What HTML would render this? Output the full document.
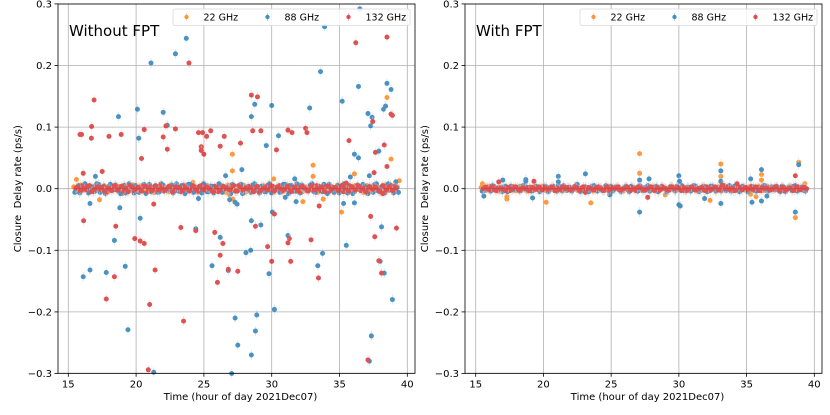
<!DOCTYPE html>
<html><head><meta charset="utf-8">
<style>
html,body{margin:0;padding:0;background:#fff;}
svg{display:block;font-family:"DejaVu Sans","Liberation Sans",sans-serif;}
</style></head>
<body>
<svg id="chart" width="830" height="415" viewBox="0 0 830 415" xmlns="http://www.w3.org/2000/svg"></svg>
<script>
// ---- data ----
const xTicks = [15, 20, 25, 30, 35, 40];
const yTicks = [-0.3, -0.2, -0.1, 0.0, 0.1, 0.2, 0.3];
const yTickLabels = ["\u22120.3", "\u22120.2", "\u22120.1", "0.0", "0.1", "0.2", "0.3"];
const seriesNames = ["22 GHz", "88 GHz", "132 GHz"];
const panelTitles = ["Without FPT", "With FPT"];

// dense band near zero (time in hours, value in 1e-3 ps/s)
const bandTimes = [15.40,15.65,15.90,16.15,16.40,16.65,16.90,17.15,17.40,17.65,17.90,18.15,18.40,18.65,18.90,19.15,19.40,19.65,19.90,20.15,20.40,20.65,20.90,21.15,21.40,21.65,21.90,22.15,22.40,22.65,22.90,23.15,23.40,23.65,23.90,24.15,24.40,24.65,24.90,25.15,25.40,25.65,25.90,26.15,26.40,26.65,26.90,27.15,27.40,27.65,27.90,28.15,28.40,28.65,28.90,29.15,29.40,29.65,29.90,30.15,30.40,30.65,30.90,31.15,31.40,31.65,31.90,32.15,32.40,32.65,32.90,33.15,33.40,33.65,33.90,34.15,34.40,34.65,34.90,35.15,35.40,35.65,35.90,36.15,36.40,36.65,36.90,37.15,37.40,37.65,37.90,38.15,38.40,38.65,38.90,39.15];
const bandTimes2 = [15.52,15.77,16.02,16.27,16.52,16.77,17.02,17.27,17.52,17.77,18.02,18.27,18.52,18.77,19.02,19.27,19.52,19.77,20.02,20.27,20.52,20.77,21.02,21.27,21.52,21.77,22.02,22.27,22.52,22.77,23.02,23.27,23.52,23.77,24.02,24.27,24.52,24.77,25.02,25.27,25.52,25.77,26.02,26.27,26.52,26.77,27.02,27.27,27.52,27.77,28.02,28.27,28.52,28.77,29.02,29.27,29.52,29.77,30.02,30.27,30.52,30.77,31.02,31.27,31.52,31.77,32.02,32.27,32.52,32.77,33.02,33.27,33.52,33.77,34.02,34.27,34.52,34.77,35.02,35.27,35.52,35.77,36.02,36.27,36.52,36.77,37.02,37.27,37.52,37.77,38.02,38.27,38.52,38.77,39.02,39.27];
const bandLeft22 = [3,-4,6,-2,1,-5,4,0,-3,5,-6,2,-1,4,-3,6,-5,1,3,-2,5,-4,0,2,-6,4,-1,3,-5,6,-2,1,-4,5,-3,2,0,-5,6,-1,3,-4,1,5,-2,-6,4,0,-3,2,6,-5,1,-2,4,-3,5,-1,2,-6,3,0,-4,6,-2,1,-5,4,-3,2,5,-1,-6,3,0,-2,4,-5,6,1,-3,2,-4,5,-1,3,-6,0,4,-2,1,-5,6,-3,2,-1];
const bandLeft88 = [-6,5,-2,8,-7,3,-4,7,1,-8,4,-3,6,-5,2,-7,8,-1,5,-6,3,-8,7,-2,4,-5,6,-3,1,-7,8,-4,5,-1,7,-6,2,-3,8,-5,4,-7,1,6,-2,3,-8,5,-4,7,-1,2,-6,8,-3,4,-5,6,-7,1,3,-2,7,-8,5,-4,2,6,-1,-3,8,-6,4,-5,3,7,-2,1,-7,6,-4,5,-8,2,-1,7,-3,4,-6,8,-5,3,-2,6,-7,1];
const bandLeft132 = [1,-3,4,-2,5,-4,2,-1,3,-5,0,4,-2,3,-4,1,5,-3,2,-1,4,-5,3,0,-2,5,-4,1,3,-3,2,-5,4,-1,0,3,-4,5,-2,1,-3,4,-5,2,0,-1,3,-4,5,-2,1,4,-3,2,-5,0,3,-1,4,-2,5,-4,1,-3,2,3,-5,4,-1,0,-2,5,-3,1,4,-4,2,-1,3,-5,0,4,-2,5,-3,1,-4,2,3,-1,-5,4,0,-2,3];
const bandRight22 = [2,-3,4,-1,0,-4,3,1,-2,4,-3,2,-1,3,-4,1,2,-2,4,-3,0,3,-1,2,-4,1,3,-2,4,-1,-3,2,0,-4,3,1,-2,4,-3,1,2,-1,-4,3,0,2,-3,4,-1,1,-2,3,-4,2,0,-1,4,-3,1,2,-2,3,-4,0,1,-3,4,-1,2,-2,3,-4,1,0,-3,4,2,-1,-2,3,-4,1,4,-3,0,2,-1,3,-4,1,-2,4,-3,2];
const bandRight88 = [-4,3,-1,5,-3,2,-5,4,0,-2,3,-4,5,-1,2,-3,4,-5,1,3,-2,4,-4,0,5,-3,2,-1,4,-5,3,-2,1,5,-4,2,-3,0,4,-1,3,-5,2,-2,4,1,-4,3,-3,5,-1,2,-5,4,0,-2,3,-4,1,5,-3,2,-1,4,-5,3,-2,0,4,-4,1,3,-3,5,-1,2,-5,4,-2,0,3,-4,1,5,-3,2,-1,4,-5,3,-2,1,4,-4,2,-3];
const bandRight132 = [0,2,-2,3,-3,1,-1,2,-3,3,0,-2,1,2,-3,3,-1,0,2,-2,3,-3,1,-1,0,2,-2,3,-1,1,-3,2,0,-2,3,-1,1,-3,2,0,3,-2,1,-1,2,-3,3,0,-2,1,2,-1,-3,3,0,-2,2,1,-1,3,-3,0,2,-2,1,-1,3,-3,2,0,-2,1,3,-1,-3,2,0,1,-2,3,-1,2,-3,0,1,-2,3,-1,2,-3,0,1,-2,3,-1,2];

// outliers: left panel
const outLeft22T = [27.1,27.1,27.15,38.5,38.8,38.7,33.05,33.05,32.3,35.15,33.8,36.1,17.3,15.6,30.15,39.4,26.9,19.0,24.2];
const outLeft22V = [0.056,0.029,-0.017,0.148,0.048,0.276,0.038,0.020,-0.021,-0.038,-0.017,0.024,-0.018,0.015,0.016,0.013,-0.010,-0.008,0.010];
const outLeft88T = [16.1,16.6,16.6,17.0,17.8,18.4,18.7,18.8,19.2,19.4,20.1,20.2,20.3,21.1,21.3,22.0,22.3,22.9,23.7,24.4,24.6,25.6,26.2,26.8,26.9,27.05,27.3,27.5,27.3,27.45,27.8,28.5,28.75,28.45,28.5,28.1,28.5,28.8,28.9,29.2,29.6,29.8,30.0,30.05,30.2,30.5,31.2,32.8,33.6,33.9,33.4,33.75,35.2,35.5,36.1,36.4,36.4,36.5,37.1,37.3,37.4,37.35,37.2,37.9,38.1,38.0,38.3,38.25,38.4,38.5,38.8,38.9,39.15,36.1,35.3,37.2,35.8,26.6,31.7,31.8,31.0];
const outLeft88V = [-0.143,-0.132,-0.024,0.020,-0.136,-0.084,0.117,-0.031,-0.126,-0.229,0.129,0.082,-0.048,0.204,-0.298,0.124,0.103,0.219,0.244,-0.065,-0.016,-0.125,-0.079,-0.133,-0.018,-0.300,-0.210,-0.254,-0.022,-0.025,0.031,0.117,0.137,-0.100,-0.052,-0.104,-0.270,-0.231,-0.205,-0.059,0.070,-0.138,0.135,-0.038,-0.196,0.086,-0.076,0.131,0.190,0.263,-0.125,-0.105,0.142,-0.092,0.056,0.050,0.166,0.292,0.122,0.102,0.116,-0.239,-0.280,0.061,-0.062,-0.118,-0.137,0.129,0.134,0.171,0.161,-0.180,0.011,-0.023,-0.024,0.021,0.019,0.021,0.016,-0.021,-0.014];
const outLeft132T = [15.86,15.98,16.9,16.7,16.72,16.1,16.13,17.5,17.8,18.0,18.4,18.5,18.9,19.9,20.3,20.6,20.4,20.6,21.0,20.9,21.3,21.4,22.0,22.2,22.3,22.9,23.3,23.5,23.9,24.4,24.6,24.8,24.8,24.9,25.0,25.2,25.5,25.8,26.0,26.2,26.2,26.4,26.5,26.8,27.5,27.7,28.5,28.6,28.8,28.95,29.2,29.7,30.0,30.2,30.35,31.2,31.5,31.4,31.3,31.2,32.5,32.6,32.9,33.45,33.5,35.7,36.2,37.1,37.3,37.55,37.65,37.6,37.9,38.1,38.3,38.5,38.5,38.8,38.9,37.45,39.2,38.2,35.5];
const outLeft132V = [0.088,0.088,0.144,0.082,0.101,0.025,-0.052,0.028,-0.179,0.085,-0.143,-0.061,0.088,-0.081,-0.085,0.096,0.049,-0.089,-0.188,-0.294,-0.025,-0.132,0.084,0.102,0.064,0.097,-0.063,-0.215,0.204,-0.068,0.091,0.068,0.062,0.091,0.056,0.085,0.094,-0.071,-0.152,0.069,-0.108,-0.089,0.085,-0.131,-0.134,0.074,0.152,0.094,-0.061,0.149,0.094,-0.094,-0.118,-0.041,0.063,0.095,0.091,-0.118,-0.081,-0.088,0.098,0.091,-0.083,-0.145,-0.028,0.078,0.237,-0.278,-0.045,0.026,0.059,-0.078,-0.117,-0.137,0.071,0.246,0.036,0.121,0.119,0.109,-0.064,-0.008,0.009];

// outliers: right panel
const outRight22T = [27.1,27.1,33.1,33.1,36.1,36.1,38.85,38.6,20.2,23.5,17.3,17.3,32.3,35.7,35.3,29.0,39.3,15.5];
const outRight22V = [0.057,0.025,0.040,0.020,0.023,0.014,0.043,-0.047,-0.022,-0.023,-0.017,-0.013,-0.019,-0.013,-0.009,-0.010,0.008,0.008];
const outRight88T = [15.6,17.0,18.7,18.7,19.2,21.1,21.1,23.1,24.9,27.1,27.1,27.8,30.0,30.0,30.1,30.05,31.9,33.1,33.1,33.1,35.3,35.4,36.1,36.1,36.5,38.6,38.85,22.5];
const outRight88V = [-0.012,0.014,0.015,0.012,-0.015,0.020,0.011,0.024,-0.010,-0.038,0.014,0.016,0.021,-0.026,-0.028,0.012,-0.016,0.029,0.012,-0.024,0.016,-0.022,0.031,-0.020,-0.012,-0.038,0.039,0.007];
const outRight132T = [16.7,19.3,27.7,38.6,33.2,23.1,34.3];
const outRight132V = [0.011,0.012,-0.014,0.021,0.006,-0.006,0.008];

const colors = ["#ff7f0e", "#1f77b4", "#d62728"];

// ---- layout ----
const NS = "http://www.w3.org/2000/svg";
const svg = document.getElementById("chart");
const panels = [
  {x0: 58, x1: 415, t15: 68.3, t40: 407.3, ylabX: 21, band: [bandLeft22, bandLeft88, bandLeft132],
   outT: [outLeft22T, outLeft88T, outLeft132T], outV: [outLeft22V, outLeft88V, outLeft132V]},
  {x0: 465, x1: 822, t15: 475.7, t40: 814.3, ylabX: 428, band: [bandRight22, bandRight88, bandRight132],
   outT: [outRight22T, outRight88T, outRight132T], outV: [outRight22V, outRight88V, outRight132V]}
];
const yTop = 4, yBot = 373.3;
function yScale(v) { return 188.7 - v * 616; }

function el(tag, attrs, parent) {
  const e = document.createElementNS(NS, tag);
  for (const k in attrs) e.setAttribute(k, attrs[k]);
  (parent || svg).appendChild(e);
  return e;
}

panels.forEach((p, pi) => {
  const xScale = t => p.t15 + (t - 15) * (p.t40 - p.t15) / 25;
  const g = el("g", {});
  
  

  xTicks.forEach(t => {
    const gl = el("line", {x1: xScale(t), x2: xScale(t), y1: yTop, y2: yBot, stroke: "#b0b0b0", "stroke-width": 0.8}, g);
    
    
  });
  yTicks.forEach(v => {
    const gl = el("line", {x1: p.x0, x2: p.x1, y1: yScale(v), y2: yScale(v), stroke: "#b0b0b0", "stroke-width": 0.8}, g);
    
    
  });

  const pts = el("g", {opacity: 0.8}, g);
  
  
  function dot(t, v, s) {
    const cx = xScale(t), cy = yScale(v);
    const eb = el("line", {x1: cx, x2: cx, y1: cy - 5, y2: cy + 5, stroke: s === 1 ? "#9ecae1" : (s === 0 ? "#fdd0a2" : "#f4b6b6"), "stroke-width": 0.8, opacity: 0.6}, pts);
    
    
    const c = el("circle", {cx: cx, cy: cy, r: 2.5, fill: colors[s]}, pts);
    
    
  }
  for (let s = 0; s < 3; s++) {
    const b = p.band[s];
    const n = Math.min(b.length, bandTimes.length, bandTimes2.length);
    for (let i = 0; i < n; i++) dot(bandTimes[i] + s * 0.08, b[i] / 1000, s);
    for (let i = 0; i < n; i++) dot(bandTimes2[i] + s * 0.08, b[n - 1 - i] / 1000, s);
    const T = p.outT[s], V = p.outV[s];
    for (let i = 0; i < Math.min(T.length, V.length); i++) dot(T[i], V[i], s);
  }

  const frame = el("rect", {x: p.x0, y: yTop, width: p.x1 - p.x0, height: yBot - yTop, fill: "none", stroke: "#000", "stroke-width": 0.8}, g);
  
  

  xTicks.forEach(t => {
    const tk = el("line", {x1: xScale(t), x2: xScale(t), y1: yBot, y2: yBot + 3.5, stroke: "#000", "stroke-width": 0.8}, g);
    
    
    const tl = el("text", {x: xScale(t), y: yBot + 14, "text-anchor": "middle", "font-size": 10, fill: "#000"}, g);
    tl.textContent = String(t);
    
    
  });
  yTicks.forEach((v, i) => {
    const tk = el("line", {x1: p.x0 - 3.5, x2: p.x0, y1: yScale(v), y2: yScale(v), stroke: "#000", "stroke-width": 0.8}, g);
    
    
    const tl = el("text", {x: p.x0 - 6, y: yScale(v) + 3.5, "text-anchor": "end", "font-size": 10, fill: "#000"}, g);
    tl.textContent = yTickLabels[i];
    
    
  });

  const xl = el("text", {x: (p.x0 + p.x1) / 2 + 4, y: 400, "text-anchor": "middle", "font-size": 10, fill: "#000"}, g);
  xl.textContent = "Time (hour of day 2021Dec07)";
  
  
  const yl = el("text", {x: p.ylabX, y: 188.7, "text-anchor": "middle", "font-size": 10, fill: "#000", transform: "rotate(-90 " + p.ylabX + " 188.7)"}, g);
  yl.textContent = "Closure\u00a0\u00a0Delay rate (ps/s)";
  
  

  const tt = el("text", {x: p.x0 + 11, y: 36, "font-size": 15, fill: "#000"}, g);
  tt.textContent = panelTitles[pi];
  
  

  const lg = el("g", {}, g);
  
  
  const lx = p.x1 - 242;
  const box = el("rect", {x: lx, y: 9, width: 237, height: 16.5, rx: 2, fill: "#fff", "fill-opacity": 0.85, stroke: "#d9d9d9", "stroke-width": 0.8}, lg);
  
  
  seriesNames.forEach((name, s) => {
    const mx = lx + 13.5 + s * 81;
    const entry = el("g", {}, lg);
    
    
    el("line", {x1: mx, x2: mx, y1: 13, y2: 21, stroke: colors[s], "stroke-width": 0.8, opacity: 0.35}, entry);
    el("circle", {cx: mx, cy: 17, r: 2.2, fill: colors[s], opacity: 0.8}, entry);
    const lt = el("text", {x: mx + 17, y: 20.5, "font-size": 9.5, fill: "#000"}, entry);
    lt.textContent = name;
    
    
  });
});
</script>
</body></html>
